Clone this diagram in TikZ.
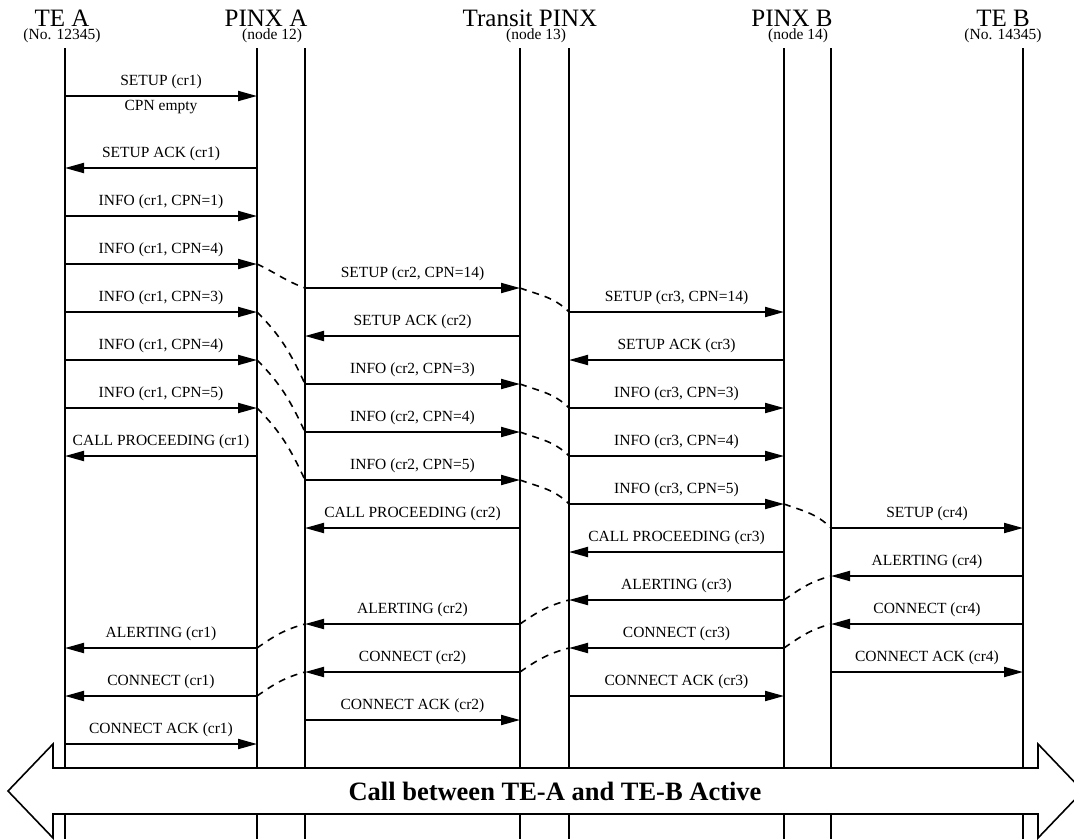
\documentclass[tikz,border=0pt]{standalone}
\usepackage{fontspec}
\setmainfont{Liberation Serif}
\usetikzlibrary{positioning,arrows.meta,quotes}

\begin{document}
\begin{tikzpicture}[x=1pt,y=-1pt]
\useasboundingbox (0,0) rectangle (1074,839);
\path[
    every node/.style={inner sep=0pt},
    party/.style={font=\fontsize{25}{25}\selectfont, anchor=base},
    partyno/.style={font=\fontsize{15.5}{16}\selectfont},
]
node[party] (tea) at (62,26) {TE A}
node[partyno, below=2.5pt of tea] (teano) {(No. 12345)}
node[party] (pinxa) at (266,26) {PINX A}
node[partyno, below=2.5pt of pinxa, xshift=6pt] (pinxano) {(node 12)}
node[party] (transit) at (530,26) {Transit PINX}
node[partyno, below=2.5pt of transit, xshift=6pt] (transitno) {(node 13)}
node[party] (pinxb) at (792,26) {PINX B}
node[partyno, below=2.5pt of pinxb, xshift=6pt] (pinxbno) {(node 14)}
node[party] (teb) at (1003,26) {TE B}
node[partyno, below=2.5pt of teb] (tebno) {(No. 14345)}
;
\coordinate (ta) at (65,48);
\coordinate (pa1) at (257,48);
\coordinate (pa2) at (305,48);
\coordinate (tp1) at (520,48);
\coordinate (tp2) at (569,48);
\coordinate (pb1) at (784,48);
\coordinate (pb2) at (831,48);
\coordinate (tb) at (1023,48);
\draw[line width=2pt]
(ta) -- (ta |- 0,839) (pa1) -- (pa1 |- 0,839) (pa2) -- (pa2 |- 0,839)
(tp1) -- (tp1 |- 0,839) (tp2) -- (tp2 |- 0,839)
(pb1) -- (pb1 |- 0,839) (pb2) -- (pb2 |- 0,839) (tb) -- (tb |- 0,839);
\draw[
    line width=2pt,
    every edge/.append style={-{Triangle[length=19pt,width=10pt]}},
    every edge quotes/.style={above=6pt, inner sep=0pt,
        font=\fontsize{15.5}{16}\selectfont},
]
(ta |- 0,96) edge["SETUP (cr1)", "CPN empty" {below=3pt}] (pa1 |- 0,96)
(pa1 |- 0,168) edge["SETUP ACK (cr1)"] (ta |- 0,168)
(ta |- 0,216) edge["{INFO (cr1, CPN=1)}"] (pa1 |- 0,216)
(ta |- 0,264) edge["{INFO (cr1, CPN=4)}"] (pa1 |- 0,264)
(ta |- 0,312) edge["{INFO (cr1, CPN=3)}"] (pa1 |- 0,312)
(ta |- 0,360) edge["{INFO (cr1, CPN=4)}"] (pa1 |- 0,360)
(ta |- 0,408) edge["{INFO (cr1, CPN=5)}"] (pa1 |- 0,408)
(pa1 |- 0,456) edge["CALL PROCEEDING (cr1)"] (ta |- 0,456)
(pa1 |- 0,648) edge["ALERTING (cr1)"] (ta |- 0,648)
(pa1 |- 0,696) edge["CONNECT (cr1)"] (ta |- 0,696)
(ta |- 0,744) edge["CONNECT ACK (cr1)"] (pa1 |- 0,744)
(pa2 |- 0,288) edge["{SETUP (cr2, CPN=14)}"] (tp1 |- 0,288)
(tp1 |- 0,336) edge["SETUP ACK (cr2)"] (pa2 |- 0,336)
(pa2 |- 0,384) edge["{INFO (cr2, CPN=3)}"] (tp1 |- 0,384)
(pa2 |- 0,432) edge["{INFO (cr2, CPN=4)}"] (tp1 |- 0,432)
(pa2 |- 0,480) edge["{INFO (cr2, CPN=5)}"] (tp1 |- 0,480)
(tp1 |- 0,528) edge["CALL PROCEEDING (cr2)"] (pa2 |- 0,528)
(tp1 |- 0,624) edge["ALERTING (cr2)"] (pa2 |- 0,624)
(tp1 |- 0,672) edge["CONNECT (cr2)"] (pa2 |- 0,672)
(pa2 |- 0,720) edge["CONNECT ACK (cr2)"] (tp1 |- 0,720)
(tp2 |- 0,312) edge["{SETUP (cr3, CPN=14)}"] (pb1 |- 0,312)
(pb1 |- 0,360) edge["SETUP ACK (cr3)"] (tp2 |- 0,360)
(tp2 |- 0,408) edge["{INFO (cr3, CPN=3)}"] (pb1 |- 0,408)
(tp2 |- 0,456) edge["{INFO (cr3, CPN=4)}"] (pb1 |- 0,456)
(tp2 |- 0,504) edge["{INFO (cr3, CPN=5)}"] (pb1 |- 0,504)
(pb1 |- 0,552) edge["CALL PROCEEDING (cr3)"] (tp2 |- 0,552)
(pb1 |- 0,600) edge["ALERTING (cr3)"] (tp2 |- 0,600)
(pb1 |- 0,648) edge["CONNECT (cr3)"] (tp2 |- 0,648)
(tp2 |- 0,696) edge["CONNECT ACK (cr3)"] (pb1 |- 0,696)
(pb2 |- 0,528) edge["SETUP (cr4)"] (tb |- 0,528)
(tb |- 0,576) edge["ALERTING (cr4)"] (pb2 |- 0,576)
(tb |- 0,624) edge["CONNECT (cr4)"] (pb2 |- 0,624)
(pb2 |- 0,672) edge["CONNECT ACK (cr4)"] (tb |- 0,672)
;
\draw[line width=1.6pt, dash pattern=on 7pt off 6pt]
(pa1 |- 0,264) edge[out=-25, in=160] (pa2 |- 0,288)
(tp1 |- 0,288) edge[out=-20, in=135] (tp2 |- 0,312)
(pa1 |- 0,312) edge[out=-45, in=115] (pa2 |- 0,384)
(pa1 |- 0,360) edge[out=-45, in=115] (pa2 |- 0,432)
(pa1 |- 0,408) edge[out=-45, in=115] (pa2 |- 0,480)
(tp1 |- 0,384) edge[out=-20, in=135] (tp2 |- 0,408)
(tp1 |- 0,432) edge[out=-20, in=135] (tp2 |- 0,456)
(tp1 |- 0,480) edge[out=-20, in=135] (tp2 |- 0,504)
(pb1 |- 0,504) edge[out=-20, in=135] (pb2 |- 0,528)
(pb1 |- 0,600) edge[out=35, in=195] (pb2 |- 0,576)
(pb1 |- 0,648) edge[out=35, in=195] (pb2 |- 0,624)
(tp1 |- 0,624) edge[out=35, in=195] (tp2 |- 0,600)
(tp1 |- 0,672) edge[out=35, in=195] (tp2 |- 0,648)
(pa1 |- 0,648) edge[out=35, in=195] (pa2 |- 0,624)
(pa1 |- 0,696) edge[out=35, in=195] (pa2 |- 0,672)
;
\draw[line width=1.6pt, fill=white]
(53,768) -- (53,744) -- (8,791) -- (53,838) -- (53,814) -- (1038,814)
-- (1038,838) -- (1083,791) -- (1038,744) -- (1038,768) -- cycle
node[font=\fontsize{26.5}{27}\selectfont\bfseries] (active) at (555,791)
{Call between TE-A and TE-B Active};
\end{tikzpicture}
\end{document}
